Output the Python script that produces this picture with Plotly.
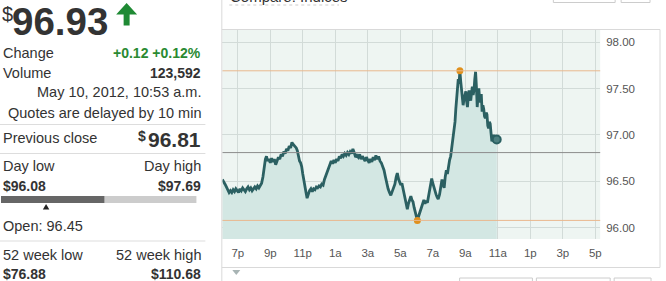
import plotly.graph_objects as go

W, H = 666, 281

# ---------------- data ----------------
minutes = [3,8,13,18,23,28,33,38,43,48,53,58,63,68,73,78,83,88,93,98,103,108,113,118,123,128,133,138,143,148,
           153,158,162,166,170,175,180,185,190,195,200,205,210,215,220,225,230,235,240,245,250,255,260,264,268,272,276,280,284,288,292,296,300,304,308,312,316,320,
           325,330,335,340,345,350,355,360,365,370,375,380,385,390,395,400,405,410,415,420,425,430,435,440,445,450,455,460,465,470,475,480,485,490,495,500,
           505,510,515,520,525,530,535,540,545,550,555,560,565,570,575,580,585,590,595,600,
           605,610,615,620,625,630,635,640,645,649,654,658,662,666,670,674,678,682,686,690,694,699,703,707,711,715,719,723,727,731,735,739,743,747,751,755,760,764,768,772,776,780,784,788,792,796,800,
           805,810,814,818,822,826,830,834,838,842,846,850,853,856,859,862,865,868,871,874,877,880,883,886,889,892,895,899,902,905,908,911,914,917,920,923,926,929,932,935,938,941,944,947,950,953,956,959,962,965,968,971,974,977,980,983,986,989,992,995,998,1001,1004,1008,1012,1016]
prices = [96.52,96.50,96.47,96.44,96.41,96.38,96.40,96.38,96.41,96.39,96.42,96.40,96.38,96.42,96.40,96.43,96.41,96.39,96.42,96.44,96.41,96.43,96.40,96.42,96.44,96.42,96.45,96.43,96.46,96.48,
          96.55,96.66,96.74,96.77,96.72,96.74,96.70,96.75,96.71,96.74,96.68,96.72,96.76,96.74,96.79,96.77,96.82,96.80,96.85,96.83,96.88,96.86,96.92,96.90,96.89,96.87,96.86,96.83,96.76,96.72,96.70,96.66,96.58,96.50,96.46,96.38,96.32,96.36,
          96.40,96.42,96.39,96.42,96.41,96.44,96.43,96.45,96.44,96.47,96.46,96.52,96.56,96.60,96.63,96.67,96.72,96.69,96.73,96.70,96.74,96.72,96.77,96.75,96.79,96.77,96.80,96.78,96.81,96.79,96.82,96.80,96.85,96.81,96.76,96.78,
          96.76,96.79,96.74,96.77,96.75,96.72,96.76,96.73,96.70,96.74,96.71,96.76,96.73,96.78,96.74,96.77,96.72,96.70,96.66,96.62,
          96.55,96.47,96.42,96.38,96.35,96.39,96.43,96.47,96.55,96.59,96.52,96.49,96.46,96.48,96.42,96.39,96.34,96.27,96.20,96.26,96.31,96.34,96.30,96.28,96.22,96.18,96.13,96.08,96.12,96.16,96.19,96.24,96.27,96.30,96.26,96.29,96.27,96.33,96.40,96.47,96.53,96.48,96.43,96.38,96.36,96.33,96.31,
          96.36,96.45,96.52,96.47,96.43,96.55,96.62,96.58,96.68,96.73,96.77,96.86,96.93,96.97,97.08,97.14,97.28,97.43,97.52,97.60,97.55,97.69,97.58,97.47,97.40,97.32,97.38,97.45,97.47,97.36,97.30,97.42,97.48,97.40,97.37,97.45,97.52,97.43,97.48,97.60,97.68,97.52,97.30,97.42,97.50,97.38,97.35,97.44,97.25,97.32,97.28,97.20,97.18,97.24,97.22,97.10,97.07,97.14,97.12,97.02,96.93,96.98,97.00,96.96,96.97,96.95]

tick_minutes = [60,180,300,420,540,660,780,900,1020,1140,1260,1380]
tick_labels = ['7p','9p','11p','1a','3a','5a','7a','9a','11a','1p','3p','5p']
y_ticks = [96.0, 96.5, 97.0, 97.5, 98.0]

prev_close = 96.81
day_low, day_high = 96.08, 97.69
low_minute, high_minute = 723, 880

# ---------------- helpers ----------------
def px(x):
    return x / W

def py(y):
    return 1 - y / H

FONT = "Arial, Liberation Sans, sans-serif"
TEXT = "#333333"
GREEN = "#2a8a32"

fig = go.Figure()

fig.add_trace(go.Scatter(x=minutes, y=prices, mode="lines",
                         line=dict(color="#2b6062", width=2.8),
                         fill="tozeroy", fillcolor="#d3e7e3",
                         hoverinfo="skip", showlegend=False))
fig.add_trace(go.Scatter(x=[low_minute, high_minute], y=[day_low, day_high], mode="markers",
                         marker=dict(color="#e0901e", size=7), showlegend=False, hoverinfo="skip"))
fig.add_trace(go.Scatter(x=[minutes[-1]], y=[prices[-1]], mode="markers",
                         marker=dict(color="#4d8080", size=8, line=dict(color="#2b6062", width=2)),
                         showlegend=False, hoverinfo="skip"))

x0, x1 = 223, 602
y0, y1 = 29, 239

shapes = []
for val, col, wd in [(day_high, "#e9b88e", 1), (day_low, "#e9b88e", 1), (prev_close, "#8d8d8d", 1)]:
    shapes.append(dict(type="line", xref="paper", yref="y", x0=px(x0), x1=px(x1), y0=val, y1=val,
                       line=dict(color=col, width=wd), layer="above"))

def hline(xa, xb, y, col="#d9d9d9", w=1, dash=None):
    d = dict(type="line", xref="paper", yref="paper", x0=px(xa), x1=px(xb), y0=py(y), y1=py(y),
             line=dict(color=col, width=w))
    if dash:
        d["line"]["dash"] = dash
    shapes.append(d)

def vline(x, ya, yb, col="#d9d9d9", w=1):
    shapes.append(dict(type="line", xref="paper", yref="paper", x0=px(x), x1=px(x), y0=py(ya), y1=py(yb),
                       line=dict(color=col, width=w)))

def rect(xa, ya, xb, yb, fill=None, line=None):
    shapes.append(dict(type="rect", xref="paper", yref="paper", x0=px(xa), x1=px(xb), y0=py(yb), y1=py(ya),
                       fillcolor=fill if fill else "rgba(0,0,0,0)",
                       line=dict(color=line if line else "rgba(0,0,0,0)", width=1)))

vline(222.5, 0, 281)
hline(222.5, 662, 29.5)
hline(222.5, 662, 267.5)
vline(662, 29.5, 267.5)
hline(230, 340, 5, col="#cccccc", dash="dot")

rect(555, -5, 617, 2.5, line="#cccccc")
rect(623, -5, 652, 2.5, line="#cccccc")
rect(461, 278, 534, 290, line="#cccccc")
rect(538, 278, 612, 290, line="#cccccc")
rect(616, 278, 653, 290, line="#cccccc")

shapes.append(dict(type="path", xref="paper", yref="paper",
                   path=f"M {px(233)} {py(270)} L {px(241)} {py(270)} L {px(237)} {py(275)} Z",
                   fillcolor="#a8b4b4", line=dict(width=0)))

hline(0, 206, 124.5, col="#dddddd")
hline(0, 206, 153.5, col="#dddddd")
hline(0, 206, 241, col="#dddddd")

rect(1, 196, 105, 203, fill="#666666")
rect(105, 196, 197, 203, fill="#cccccc")
shapes.append(dict(type="path", xref="paper", yref="paper",
                   path=f"M {px(43)} {py(209.5)} L {px(49.5)} {py(209.5)} L {px(46.2)} {py(204)} Z",
                   fillcolor="#222222", line=dict(width=0)))

ax = [(127, 3), (137.5, 14.5), (130, 14.5), (130, 25.5), (124, 25.5), (124, 14.5), (116.5, 14.5)]
path = "M " + " L ".join(f"{px(a)} {py(b)}" for a, b in ax) + " Z"
shapes.append(dict(type="path", xref="paper", yref="paper", path=path,
                   fillcolor="#1f8a34", line=dict(width=0)))

ann = []
def text(t, x, y, size=14, color=TEXT, anchor="left", bold=False):
    s = f"<b>{t}</b>" if bold else t
    ann.append(dict(text=s, x=px(x), y=py(y), xref="paper", yref="paper", showarrow=False,
                    xanchor=anchor, yanchor="middle", font=dict(family=FONT, size=size, color=color)))

text("$", -0.5, 14, size=20)
text("96.93", 10, 21.5, size=38.5, bold=True)
text("Change", 1, 53, size=14.5)
text("+0.12 +0.12%", 204, 53, size=14, color=GREEN, anchor="right", bold=True)
text("Volume", 1, 73, size=14.5)
text("123,592", 204, 73, size=14, anchor="right", bold=True)
text("May 10, 2012, 10:53 a.m.", 204, 91.5, size=14.5, anchor="right")
text("Quotes are delayed by 10 min", 204, 113, size=14.5, anchor="right")
text("Previous close", 1, 138, size=14.5)
text("$", 136, 136, size=14, anchor="left", bold=True)
text("96.81", 204, 139, size=21, anchor="right", bold=True)
text("Day low", 1, 166, size=14.5)
text("Day high", 204, 166, size=14.5, anchor="right")
text("$96.08", 1, 185.5, size=14, bold=True)
text("$97.69", 204, 185.5, size=14, anchor="right", bold=True)
text("Open: 96.45", 1, 225.5, size=14.5)
text("52 week low", 1, 255, size=14.5)
text("52 week high", 204, 255, size=14.5, anchor="right")
text("$76.88", 1, 273.5, size=14, bold=True)
text("$110.68", 204, 273.5, size=14, anchor="right", bold=True)
text("Compare: Indices", 229, -4, size=15)

fig.update_layout(
    width=W, height=H,
    margin=dict(l=0, r=0, t=0, b=0),
    paper_bgcolor="white", plot_bgcolor="#eef5f2",
    shapes=shapes, annotations=ann,
    font=dict(family=FONT, size=11, color="#555555"),
    xaxis=dict(domain=[px(x0), px(x1)], range=[3, 1398], tickvals=tick_minutes, ticktext=tick_labels,
               showgrid=True, gridcolor="#d2dbd8", gridwidth=1, zeroline=False, showline=False,
               ticks="", ticklabelstandoff=5, tickfont=dict(size=11.5, color="#555555"), fixedrange=True),
    yaxis=dict(domain=[py(y1), py(y0)], range=[95.88, 98.14], side="right", tickvals=y_ticks,
               tickformat=".2f", showgrid=True, gridcolor="#d2dbd8", gridwidth=1, zeroline=False,
               showline=False, ticks="", ticklabelstandoff=5, tickfont=dict(size=11.5, color="#555555"),
               fixedrange=True),
    showlegend=False,
)

fig.write_html("out.html")
